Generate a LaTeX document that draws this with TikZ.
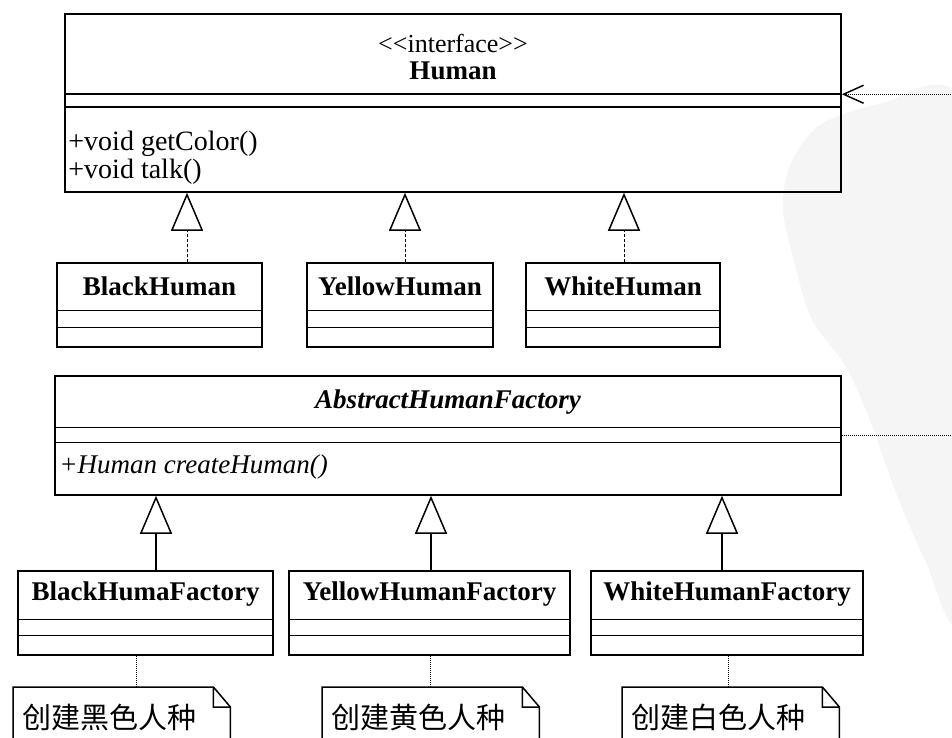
\documentclass[tikz,border=0pt]{standalone}
\usepackage{fontspec}
\setmainfont{Liberation Serif}
\newfontfamily\cjk{Noto Sans CJK SC}
\usetikzlibrary{arrows.meta}

\begin{document}
\begin{tikzpicture}[x=1pt,y=-1pt]

 \tikzset{
    box/.style={draw, line width=1.5pt, inner sep=0pt},
    clsname/.style={font=\bfseries\fontsize{27}{30}\selectfont},
    member/.style={font=\fontsize{28}{30}\selectfont, anchor=west, inner sep=0pt},
    sep/.style={line width=1.5pt},
    realize/.style={line width=1pt, densely dashed, -{Triangle[open, width=32pt, length=38pt, line width=1.5pt]}},
    extend/.style={line width=1.5pt, -{Triangle[open, width=32pt, length=38pt, line width=1.5pt]}},
    link/.style={line width=1pt, densely dotted},
    depend/.style={line width=1pt, densely dotted, -{Straight Barb[length=20pt, width=18pt, line width=1.5pt]}},
    notebox/.style={font=\cjk\fontsize{29}{32}\selectfont, minimum width=217, minimum height=60, text width=199, inner xsep=9pt, align=left, anchor=north west},
    fold/.style={line width=1.5pt},
  }

  \useasboundingbox (0,0) rectangle (952,738);
  \fill[white] (0,0) rectangle (952,738);
  \fill[gray!8] plot[smooth cycle] coordinates {(960,100) (880,104) (820,125) (790,165) (783,210) (795,265) (812,320) (845,365) (870,420) (895,490) (925,560) (960,620) (990,360)};

  \node[box, minimum width=776, minimum height=178] (human) at (453,103) {};
  \node[font=\fontsize{26}{28}\selectfont] (humanstereo) at (453,43) {<\kern0pt<interface>\kern0pt>};
  \node[clsname] (humanname) at (453,71) {Human};
  \draw[sep] ([yshift=-81]human.north west) -- ([yshift=-81]human.north east)
             ([yshift=-94]human.north west) -- ([yshift=-94]human.north east);
  \node[member] (getcolor) at ([xshift=4,yshift=-131]human.north west) {+void getColor()};
  \node[member] (talk) at ([xshift=4,yshift=-159]human.north west) {+void talk()};

  \node[box, minimum width=205, minimum height=84] (blackhuman) at (159.5,305) {};
  \node[clsname] (blackhumanname) at ([yshift=-24]blackhuman.north) {BlackHuman};
  \draw[sep] ([yshift=-48]blackhuman.north west) -- ([yshift=-48]blackhuman.north east)
             ([yshift=-65]blackhuman.north west) -- ([yshift=-65]blackhuman.north east);

  \node[box, minimum width=186, minimum height=84] (yellowhuman) at (400,305) {};
  \node[clsname] (yellowhumanname) at ([yshift=-24]yellowhuman.north) {YellowHuman};
  \draw[sep] ([yshift=-48]yellowhuman.north west) -- ([yshift=-48]yellowhuman.north east)
             ([yshift=-65]yellowhuman.north west) -- ([yshift=-65]yellowhuman.north east);

  \node[box, minimum width=194, minimum height=84] (whitehuman) at (623,305) {};
  \node[clsname] (whitehumanname) at ([yshift=-24]whitehuman.north) {WhiteHuman};
  \draw[sep] ([yshift=-48]whitehuman.north west) -- ([yshift=-48]whitehuman.north east)
             ([yshift=-65]whitehuman.north west) -- ([yshift=-65]whitehuman.north east);

  \draw[realize] ([xshift=27.5]blackhuman.north) -- ([xshift=27.5]blackhuman.north |- human.south);
  \draw[realize] ([xshift=5]yellowhuman.north) -- ([xshift=5]yellowhuman.north |- human.south);
  \draw[realize] ([xshift=1]whitehuman.north) -- ([xshift=1]whitehuman.north |- human.south);

  \node[box, minimum width=786, minimum height=119] (absfactory) at (448,435.5) {};
  \node[clsname, font=\bfseries\itshape\fontsize{27}{30}\selectfont] (absfactoryname) at ([yshift=-27]absfactory.north) {AbstractHumanFactory};
  \draw[sep] ([yshift=-52]absfactory.north west) -- ([yshift=-52]absfactory.north east)
             ([yshift=-67]absfactory.north west) -- ([yshift=-67]absfactory.north east);
  \node[member, font=\itshape\fontsize{27}{30}\selectfont] (createhuman) at ([xshift=5,yshift=-92]absfactory.north west) {+Human createHuman()};

  \node[box, minimum width=255, minimum height=84] (blackfactory) at (145.5,613) {};
  \node[clsname] (blackfactoryname) at ([yshift=-24]blackfactory.north) {BlackHumaFactory};
  \draw[sep] ([yshift=-49]blackfactory.north west) -- ([yshift=-49]blackfactory.north east)
             ([yshift=-65]blackfactory.north west) -- ([yshift=-65]blackfactory.north east);

  \node[box, minimum width=281, minimum height=84] (yellowfactory) at (429.5,613) {};
  \node[clsname] (yellowfactoryname) at ([yshift=-24]yellowfactory.north) {YellowHumanFactory};
  \draw[sep] ([yshift=-49]yellowfactory.north west) -- ([yshift=-49]yellowfactory.north east)
             ([yshift=-65]yellowfactory.north west) -- ([yshift=-65]yellowfactory.north east);

  \node[box, minimum width=272, minimum height=84] (whitefactory) at (727,613) {};
  \node[clsname] (whitefactoryname) at ([yshift=-24]whitefactory.north) {WhiteHumanFactory};
  \draw[sep] ([yshift=-49]whitefactory.north west) -- ([yshift=-49]whitefactory.north east)
             ([yshift=-65]whitefactory.north west) -- ([yshift=-65]whitefactory.north east);

  \draw[extend] ([xshift=10.5]blackfactory.north) -- ([xshift=10.5]blackfactory.north |- absfactory.south);
  \draw[extend] ([xshift=1.5]yellowfactory.north) -- ([xshift=1.5]yellowfactory.north |- absfactory.south);
  \draw[extend] ([xshift=-5]whitefactory.north) -- ([xshift=-5]whitefactory.north |- absfactory.south);

  \draw[depend] ([yshift=-60]absfactory.north east) -- ++(150,0) |- ([yshift=-81]human.north east);

  \node[notebox] (blacknote) at (13,687) {创建黑色人种};
  \node[notebox] (yellownote) at (322,687) {创建黄色人种};
  \node[notebox] (whitenote) at (622,687) {创建白色人种};

  \draw[fold] (blacknote.south west) -- (blacknote.north west) -- ([xshift=-17]blacknote.north east) -- ([yshift=-20]blacknote.north east) -- (blacknote.south east)
              ([xshift=-17]blacknote.north east) -- ([xshift=-17,yshift=-20]blacknote.north east) -- ([yshift=-20]blacknote.north east);
  \draw[fold] (yellownote.south west) -- (yellownote.north west) -- ([xshift=-17]yellownote.north east) -- ([yshift=-20]yellownote.north east) -- (yellownote.south east)
              ([xshift=-17]yellownote.north east) -- ([xshift=-17,yshift=-20]yellownote.north east) -- ([yshift=-20]yellownote.north east);
  \draw[fold] (whitenote.south west) -- (whitenote.north west) -- ([xshift=-17]whitenote.north east) -- ([yshift=-20]whitenote.north east) -- (whitenote.south east)
              ([xshift=-17]whitenote.north east) -- ([xshift=-17,yshift=-20]whitenote.north east) -- ([yshift=-20]whitenote.north east);

  \draw[link] ([xshift=-9.5]blackfactory.south) -- ([xshift=-9.5]blackfactory.south |- blacknote.north);
  \draw[link] ([xshift=0.5]yellowfactory.south) -- ([xshift=0.5]yellowfactory.south |- yellownote.north);
  \draw[link] ([xshift=1]whitefactory.south) -- ([xshift=1]whitefactory.south |- whitenote.north);
\end{tikzpicture}
\end{document}
